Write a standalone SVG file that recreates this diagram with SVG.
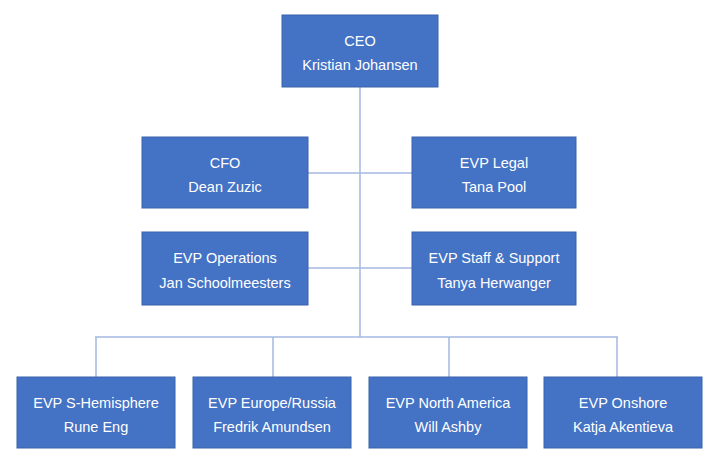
<svg xmlns="http://www.w3.org/2000/svg" width="720" height="466" viewBox="0 0 720 466">
<style>
.box{fill:#4472C4;stroke:#3B63AD;stroke-width:1}
.t{fill:#FFFFFF;font-family:"Liberation Sans",Arial,sans-serif;font-size:14.5px;text-anchor:middle}
.c{stroke:#A3B8E0;stroke-width:1.5;fill:none}
</style>
<rect width="720" height="466" fill="#FFFFFF"/>
<g id="connectors">
<line class="c" x1="360" y1="87" x2="360" y2="337"/>
<line class="c" x1="308" y1="173" x2="412" y2="173"/>
<line class="c" x1="308" y1="268" x2="412" y2="268"/>
<line class="c" x1="95" y1="337" x2="618" y2="337"/>
<line class="c" x1="96" y1="337" x2="96" y2="377"/>
<line class="c" x1="273" y1="337" x2="273" y2="377"/>
<line class="c" x1="449" y1="337" x2="449" y2="377"/>
<line class="c" x1="617" y1="337" x2="617" y2="377"/>
</g>
<g id="ceo"><rect class="box" x="282" y="15" width="156" height="72"/><text class="t" x="360" y="46">CEO</text><text class="t" x="360" y="70">Kristian Johansen</text></g>
<g id="cfo"><rect class="box" x="142" y="137" width="166" height="71"/><text class="t" x="225" y="168">CFO</text><text class="t" x="225" y="192">Dean Zuzic</text></g>
<g id="legal"><rect class="box" x="412" y="137" width="164" height="71"/><text class="t" x="494" y="168">EVP Legal</text><text class="t" x="494" y="192">Tana Pool</text></g>
<g id="operations"><rect class="box" x="142" y="232" width="166" height="73"/><text class="t" x="225" y="263">EVP Operations</text><text class="t" x="225" y="288">Jan Schoolmeesters</text></g>
<g id="staff"><rect class="box" x="412" y="232" width="164" height="73"/><text class="t" x="494" y="263">EVP Staff &amp; Support</text><text class="t" x="494" y="288">Tanya Herwanger</text></g>
<g id="shemisphere"><rect class="box" x="17" y="377" width="158" height="71"/><text class="t" x="96" y="408">EVP S-Hemisphere</text><text class="t" x="96" y="432">Rune Eng</text></g>
<g id="europe"><rect class="box" x="193" y="377" width="158" height="71"/><text class="t" x="272" y="408">EVP Europe/Russia</text><text class="t" x="272" y="432">Fredrik Amundsen</text></g>
<g id="northamerica"><rect class="box" x="369" y="377" width="158" height="71"/><text class="t" x="448" y="408">EVP North America</text><text class="t" x="448" y="432">Will Ashby</text></g>
<g id="onshore"><rect class="box" x="544" y="377" width="158" height="71"/><text class="t" x="623" y="408">EVP Onshore</text><text class="t" x="623" y="432">Katja Akentieva</text></g>
</svg>
